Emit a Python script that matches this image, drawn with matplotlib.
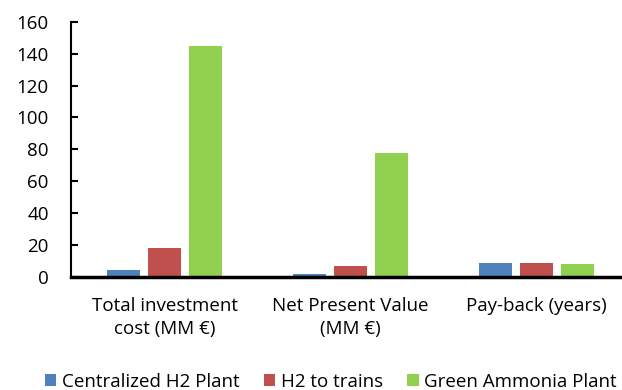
import matplotlib
matplotlib.use("Agg")
import matplotlib.pyplot as plt
import numpy as np

plt.rcParams['font.family'] = ['Open Sans', 'DejaVu Sans']

categories = ['Total investment\ncost (MM €)', 'Net Present Value\n(MM €)', 'Pay-back (years)']
series = ['Centralized H2 Plant', 'H2 to trains', 'Green Ammonia Plant']
centralized = [3.8, 1.5, 8.8]
trains = [18.1, 6.9, 8.8]
ammonia = [144.6, 77.7, 7.6]
colors = ['#4f81bd', '#c0504d', '#92d050']

fig = plt.figure(figsize=(6.22, 3.9), dpi=100)
ax = fig.add_axes([71 / 622, 1 - 276.5 / 390, 551 / 622, 254.5 / 390])

x = np.arange(len(categories))
w = 0.175
step = 0.22
for i, (vals, name, c) in enumerate(zip([centralized, trains, ammonia], series, colors)):
    ax.bar(x + (i - 1) * step, vals, w, color=c, label=name, zorder=2)

ax.set_xlim(-0.503, 2.46)
ax.set_ylim(0, 160)
ax.set_yticks(range(0, 161, 20))
ax.set_xticks(x)
ax.set_xticklabels(categories, fontsize=13.5, linespacing=1.3)
ax.tick_params(axis='y', labelsize=13.5, length=5, width=1.5, direction='in', pad=16)
ax.tick_params(axis='x', length=0, pad=15)
for s in ['top', 'right']:
    ax.spines[s].set_visible(False)
ax.spines['left'].set_linewidth(1.5)
ax.spines['bottom'].set_linewidth(2.5)

fig.legend(loc='lower center', bbox_to_anchor=(0.532, -0.045), ncol=3, frameon=False,
           fontsize=13.5, handlelength=0.6, handleheight=0.6, handletextpad=0.3,
           columnspacing=1.3)

fig.savefig('out.png', dpi=100)
